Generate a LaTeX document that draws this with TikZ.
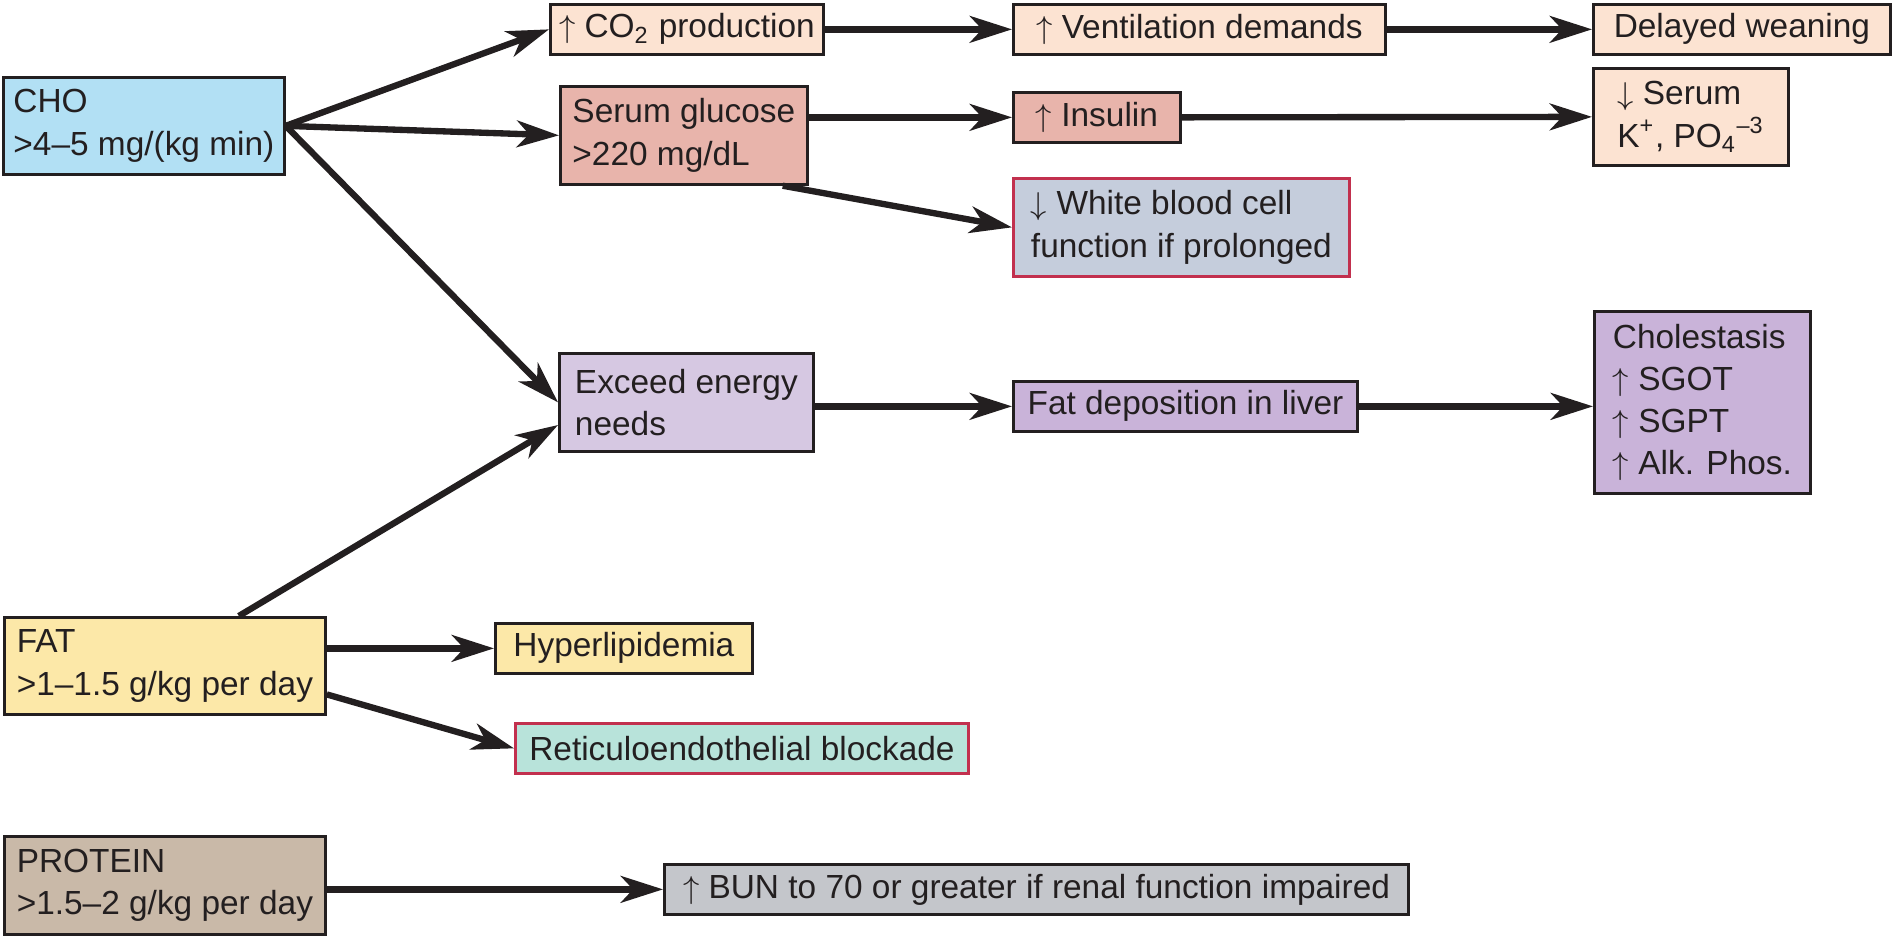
\documentclass[tikz,border=0pt]{standalone}
\usepackage{fontspec}
\setmainfont{Liberation Sans}
\usepackage{tikz}
\usetikzlibrary{arrows.meta}
\definecolor{Ink}{HTML}{231F20}
\definecolor{AlertLine}{HTML}{C2304E}
\definecolor{ChoBlue}{HTML}{B2E0F4}
\definecolor{PeachFill}{HTML}{FCE3D2}
\definecolor{SalmonFill}{HTML}{E8B4AB}
\definecolor{CellFill}{HTML}{C5CDDC}
\definecolor{ExceedFill}{HTML}{D6C8E2}
\definecolor{LiverFill}{HTML}{C9B3D9}
\definecolor{FatFill}{HTML}{FCE8A8}
\definecolor{RetFill}{HTML}{B8E3DA}
\definecolor{ProteinFill}{HTML}{C9B9A8}
\definecolor{BunFill}{HTML}{C4C6CB}

\begin{document}
\begin{tikzpicture}[x=0.01cm, y=-0.01cm,
  box/.style={draw=Ink, line width=0.75pt, anchor=north west, align=left,
              text=Ink, inner sep=0pt, font=\fontsize{9.5}{12}\selectfont},
  arr/.style={-{Stealth[length=12pt, width=7.6pt, inset=3.5pt]},
              line width=1.8pt, Ink}
]
  \useasboundingbox (0,0) rectangle (1892,935);

  % carbohydrate branch
  \node[box, fill=ChoBlue, minimum width=2.81cm, minimum height=0.97cm] (cho)
    at (2,76) {CHO\\>4--5 mg/(kg min)};
  \node[box, fill=PeachFill, minimum width=2.73cm, minimum height=0.5cm] (co2)
    at (549,3) {$\uparrow$ CO\textsubscript{2} production};
  \node[box, fill=PeachFill, minimum width=3.72cm, minimum height=0.5cm] (vent)
    at (1012,3) {$\uparrow$ Ventilation demands};
  \node[box, fill=PeachFill, minimum width=2.97cm, minimum height=0.5cm] (delayed)
    at (1592,3) {Delayed weaning};
  \node[box, fill=SalmonFill, minimum width=2.47cm, minimum height=0.98cm] (serum)
    at (559,85) {Serum glucose\\>220 mg/dL};
  \node[box, fill=SalmonFill, minimum width=1.67cm, minimum height=0.5cm] (insulin)
    at (1012,91) {$\uparrow$ Insulin};
  \node[box, fill=PeachFill, minimum width=1.95cm, minimum height=0.97cm] (serumk)
    at (1592,67) {$\downarrow$ Serum\\K\textsuperscript{+}, PO\textsubscript{4}\textsuperscript{--3}};
  \node[box, fill=CellFill, draw=AlertLine, minimum width=3.36cm,
        minimum height=0.98cm] (wbc)
    at (1012,177) {$\downarrow$ White blood cell\\function if prolonged};
  \node[box, fill=ExceedFill, minimum width=2.54cm, minimum height=0.98cm] (exceed)
    at (558,352) {Exceed energy\\needs};
  \node[box, fill=LiverFill, minimum width=3.44cm, minimum height=0.5cm] (fatdep)
    at (1012,380) {Fat deposition in liver};
  \node[box, fill=LiverFill, minimum width=2.16cm, minimum height=1.82cm] (chol)
    at (1593,310) {Cholestasis\\$\uparrow$ SGOT\\$\uparrow$ SGPT\\$\uparrow$ Alk. Phos.};

  % fat branch
  \node[box, fill=FatFill, minimum width=3.21cm, minimum height=0.97cm] (fat)
    at (3,616) {FAT\\>1--1.5 g/kg per day};
  \node[box, fill=FatFill, minimum width=2.57cm, minimum height=0.5cm] (hyper)
    at (494,622) {Hyperlipidemia};
  \node[box, fill=RetFill, draw=AlertLine, minimum width=4.53cm,
        minimum height=0.5cm] (retic)
    at (514,722) {Reticuloendothelial blockade};

  % protein branch
  \node[box, fill=ProteinFill, minimum width=3.21cm, minimum height=0.98cm] (protein)
    at (3,835) {PROTEIN\\>1.5--2 g/kg per day};
  \node[box, fill=BunFill, minimum width=7.44cm, minimum height=0.5cm] (bun)
    at (663,863) {$\uparrow$ BUN to 70 or greater if renal function impaired};

  \draw[arr] (cho.east) -- (co2.west);
  \draw[arr] (cho.east) -- (serum.west);
  \draw[arr] (cho.east) -- (exceed.west);
  \draw[arr] (fat.34) -- (exceed.190);
  \draw[arr] (co2.east) -- (vent.west);
  \draw[arr] (vent.east) -- (delayed.west);
  \draw[arr] (insulin.west -| serum.east) -- (insulin.west);
  \draw[arr] (insulin.east) -- (serumk.west);
  \draw[arr] (serum.333) -- (wbc.west);
  \draw[arr] (fatdep.west -| exceed.east) -- (fatdep.west);
  \draw[arr] (fatdep.east) -- (fatdep.east -| chol.west);
  \draw[arr] (hyper.west -| fat.east) -- (hyper.west);
  \draw[arr] (fat.350) -- (retic.west);
  \draw[arr] (bun.west -| protein.east) -- (bun.west);
\end{tikzpicture}
\end{document}
